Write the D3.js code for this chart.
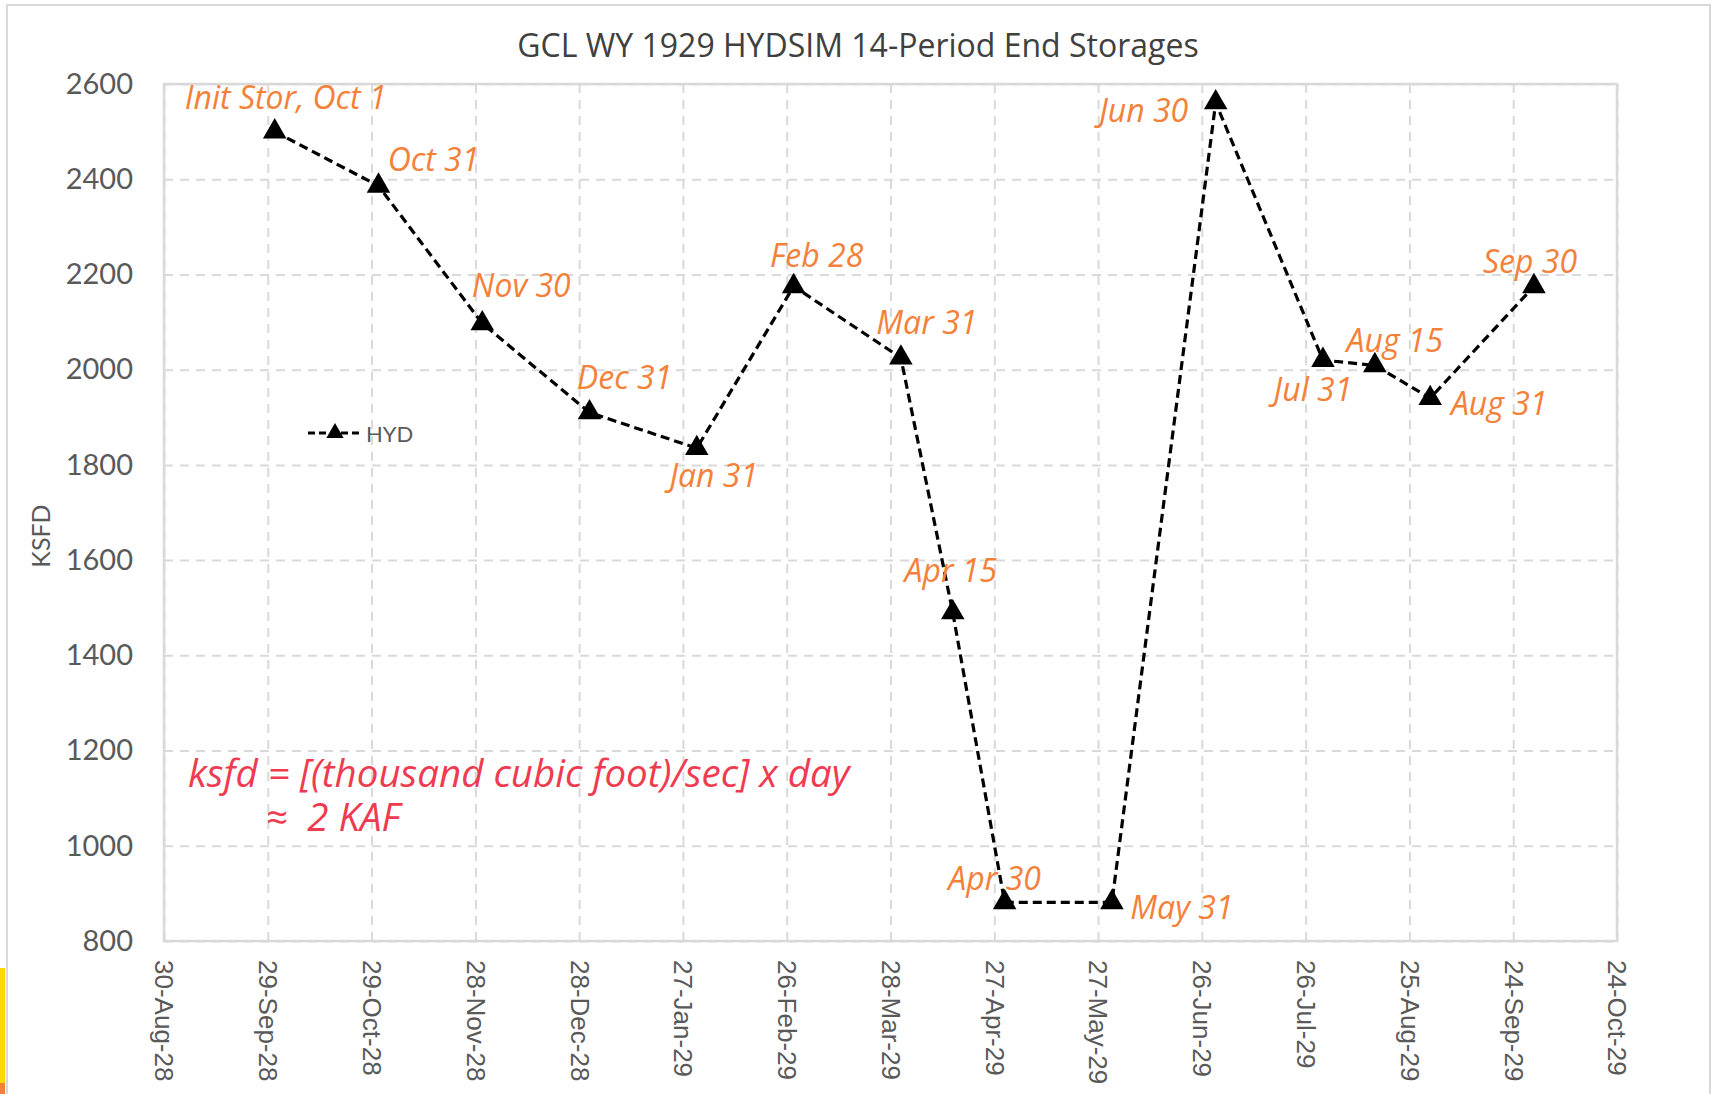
<!DOCTYPE html>
<html lang="en">
<head>
<meta charset="UTF-8">
<title>GCL WY 1929 HYDSIM 14-Period End Storages</title>
<script src="https://d3js.org/d3.v7.min.js"></script>
<style>
    body { margin: 0; background: #fff; }
    .grid line { stroke: #d9d9d9; stroke-width: 2; stroke-dasharray: 9,7; }
    .grid path { display: none; }
    .axis path, .axis line { display: none; }
    .y.axis text { font-family: Lato, sans-serif; font-size: 29px; fill: #595959; }
    .x.axis text { font-family: "Liberation Sans", Arial, sans-serif; font-size: 26px; fill: #595959; }
    .ptlabel { font-family: "Open Sans", sans-serif; font-style: italic; font-size: 32px; fill: #f4813a; }
    .note { font-family: "Open Sans", sans-serif; font-style: italic; font-size: 38.5px; fill: #ef3b50; white-space: pre; }
</style>
</head>
<body>
<svg></svg>
<script>
    // end-of-period dates and storages (ksfd)
    var dates = ["1928-10-01", "1928-10-31", "1928-11-30", "1928-12-31", "1929-01-31",
                 "1929-02-28", "1929-03-31", "1929-04-15", "1929-04-30", "1929-05-31",
                 "1929-06-30", "1929-07-31", "1929-08-15", "1929-08-31", "1929-09-30"];
    var storage = [2500, 2386, 2097, 1910, 1835, 2175, 2025, 1490, 881, 881, 2561, 2020, 2009, 1940, 2175];
    var labels = ["Init Stor, Oct 1", "Oct 31", "Nov 30", "Dec 31", "Jan 31", "Feb 28", "Mar 31",
                  "Apr 15", "Apr 30", "May 31", "Jun 30", "Jul 31", "Aug 15", "Aug 31", "Sep 30"];
    var xTicks = ["1928-08-30", "1928-09-29", "1928-10-29", "1928-11-28", "1928-12-28", "1929-01-27",
                  "1929-02-26", "1929-03-28", "1929-04-27", "1929-05-27", "1929-06-26", "1929-07-26",
                  "1929-08-25", "1929-09-24", "1929-10-24"];
    var yTicks = [800, 1000, 1200, 1400, 1600, 1800, 2000, 2200, 2400, 2600];

    // where each data label sits relative to its marker
    var labelOffsets = [[11, -35], [55, -27], [39, -39], [35, -36], [17, 26], [23, -32], [26, -36],
                        [-2, -43], [-10, -25], [70, 4], [-72, 7], [-10, 28], [20, -26], [69, 4], [-4, -26]];

    var w = 1715, h = 1094;
    var padding = { top: 84, right: 98, bottom: 153, left: 164 };

    var svg = d3.select("svg").attr("width", w).attr("height", h);

    var parseDate = d3.utcParse("%Y-%m-%d");
    var formatTick = d3.utcFormat("%-d-%b-%y");

    var points = dates.map((d, i) => ({ date: parseDate(d), value: storage[i], label: labels[i], off: labelOffsets[i] }));
    var tickDates = xTicks.map(parseDate);

    var x = d3.scaleUtc()
        .domain([tickDates[0], tickDates[tickDates.length - 1]])
        .range([padding.left, w - padding.right]);
    var y = d3.scaleLinear()
        .domain([800, 2600])
        .range([h - padding.bottom, padding.top]);

    // outer chart frame
    svg.append("rect")
        .attr("x", 7).attr("y", 5)
        .attr("width", 1703).attr("height", 1100)
        .attr("fill", "#fff").attr("stroke", "#d9d9d9").attr("stroke-width", 2);

    // stray bits of the screenshot at the lower left
    svg.append("rect").attr("x", 0).attr("y", 968).attr("width", 5).attr("height", 126).attr("fill", "#fcd900");
    svg.append("rect").attr("x", 0).attr("y", 1083).attr("width", 5).attr("height", 11).attr("fill", "#f4813a");

    // gridlines
    svg.append("g")
        .attr("class", "grid")
        .attr("transform", "translate(0," + padding.top + ")")
        .call(d3.axisBottom(x).tickValues(tickDates).tickSize(h - padding.top - padding.bottom).tickFormat(""));
    svg.append("g")
        .attr("class", "grid")
        .attr("transform", "translate(" + padding.left + ",0)")
        .call(d3.axisRight(y).tickValues(yTicks).tickSize(w - padding.left - padding.right).tickFormat(""));

    // plot area border
    svg.append("rect")
        .attr("x", padding.left).attr("y", padding.top)
        .attr("width", w - padding.left - padding.right)
        .attr("height", h - padding.top - padding.bottom)
        .attr("fill", "none").attr("stroke", "#d9d9d9").attr("stroke-width", 2.5);

    // axes
    svg.append("g")
        .attr("class", "y axis")
        .attr("transform", "translate(" + (padding.left - 31) + ",0)")
        .call(d3.axisLeft(y).tickValues(yTicks).tickFormat(d3.format("d")).tickSize(0).tickPadding(0));

    var xAxisG = svg.append("g")
        .attr("class", "x axis")
        .attr("transform", "translate(0," + (h - padding.bottom) + ")")
        .call(d3.axisBottom(x).tickValues(tickDates).tickFormat(formatTick).tickSize(0));
    xAxisG.selectAll("text")
        .attr("transform", "translate(0,19) rotate(90)")
        .attr("x", 0).attr("y", 0).attr("dy", "0.35em")
        .style("text-anchor", "start");

    // title and axis title
    svg.append("text")
        .attr("x", 858).attr("y", 44)
        .attr("text-anchor", "middle").attr("dominant-baseline", "central")
        .style("font-family", "'Open Sans', sans-serif").style("font-size", "32px").style("fill", "#404040")
        .text("GCL WY 1929 HYDSIM 14-Period End Storages");

    svg.append("text")
        .attr("transform", "translate(40,536) rotate(-90)")
        .attr("text-anchor", "middle").attr("dominant-baseline", "central")
        .style("font-family", "Lato, sans-serif").style("font-size", "25px").style("fill", "#595959")
        .text("KSFD");

    // the series
    var line = d3.line().x(d => x(d.date)).y(d => y(d.value));
    svg.append("path")
        .datum(points)
        .attr("d", line)
        .attr("fill", "none")
        .attr("stroke", "#000")
        .attr("stroke-width", 3.2)
        .attr("stroke-dasharray", "9,5");

    var tri = d3.symbol().type(d3.symbolTriangle).size(240);
    svg.selectAll(".marker")
        .data(points)
        .enter().append("path")
        .attr("class", "marker")
        .attr("d", tri)
        .attr("transform", d => "translate(" + x(d.date) + "," + y(d.value) + ")")
        .attr("fill", "#000");

    svg.selectAll(".ptlabel")
        .data(points)
        .enter().append("text")
        .attr("class", "ptlabel")
        .attr("x", d => x(d.date) + d.off[0])
        .attr("y", d => y(d.value) + d.off[1])
        .attr("text-anchor", "middle")
        .attr("dominant-baseline", "central")
        .text(d => d.label);

    // legend
    var legend = svg.append("g").attr("transform", "translate(308,433)");
    legend.append("line")
        .attr("x1", 0).attr("x2", 53)
        .attr("stroke", "#000").attr("stroke-width", 3).attr("stroke-dasharray", "7,4");
    legend.append("path").attr("d", d3.symbol().type(d3.symbolTriangle).size(130)).attr("transform", "translate(27,0)");
    legend.append("text")
        .attr("x", 58).attr("dominant-baseline", "central")
        .style("font-family", "Lato, sans-serif").style("font-size", "22px").style("fill", "#595959")
        .text("HYD");

    // unit note, two lines in one text box
    var note = svg.append("text").attr("class", "note");
    note.append("tspan")
        .attr("x", 188).attr("y", 772).attr("dominant-baseline", "central")
        .text("ksfd = [(thousand cubic foot)/sec] x day");
    note.append("tspan")
        .attr("x", 266).attr("y", 816).attr("dominant-baseline", "central")
        .text("\u2248\u00a0\u00a02 KAF");
</script>
</body>
</html>
